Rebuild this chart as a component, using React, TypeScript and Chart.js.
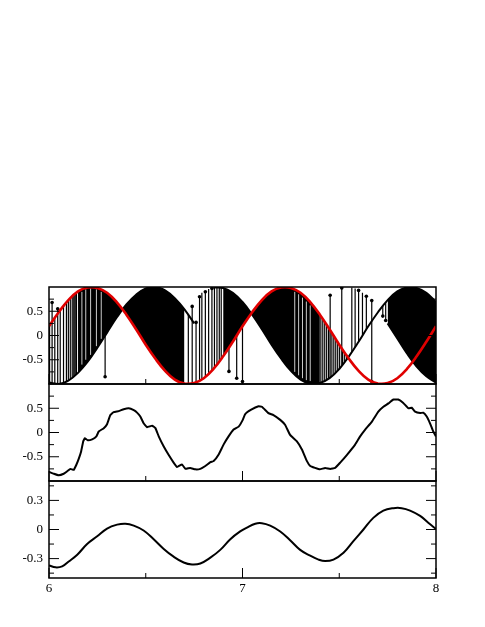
import React, { useEffect, useRef } from "react";
import { Chart, registerables } from "chart.js";
Chart.register(...registerables);

// ---------- top panel: sampled curves ----------
const X_GRID = [6.00, 6.05, 6.10, 6.15, 6.20, 6.25, 6.30, 6.35, 6.40, 6.45, 6.50, 6.55, 6.60, 6.65, 6.70, 6.75, 6.80, 6.85, 6.90, 6.95,
  7.00, 7.05, 7.10, 7.15, 7.20, 7.25, 7.30, 7.35, 7.40, 7.45, 7.50, 7.55, 7.60, 7.65, 7.70, 7.75, 7.80, 7.85, 7.90, 7.95, 8.00];
const RED_Y = [0.19, 0.48, 0.73, 0.91, 0.99, 0.98, 0.88, 0.69, 0.43, 0.13, -0.19, -0.48, -0.73, -0.91, -0.99, -0.98, -0.88, -0.69, -0.43, -0.13,
  0.19, 0.48, 0.73, 0.91, 0.99, 0.98, 0.88, 0.69, 0.43, 0.13, -0.19, -0.48, -0.73, -0.91, -0.99, -0.98, -0.88, -0.69, -0.43, -0.13, 0.19];
const BLACK_P = [-0.97, -1.00, -0.93, -0.77, -0.54, -0.25, 0.06, 0.37, 0.64, 0.84, 0.97, 1.00, 0.93, 0.77, 0.54, 0.25, -0.06, -0.37, -0.64, -0.84,
  -0.97, -1.00, -0.93, -0.77, -0.54, -0.25, 0.06, 0.37, 0.64, 0.84, 0.97, 1.00, 0.93, 0.77, 0.54, 0.25, -0.06, -0.37, -0.64, -0.84, -0.97];
const BLACK_R = [0.69, 0.43, 0.13, -0.19, -0.48, -0.73, -0.91, -0.99, -0.98, -0.88, -0.69, -0.43, -0.13, 0.19, 0.48, 0.73, 0.91, 0.99, 0.98, 0.88,
  0.69, 0.43, 0.13, -0.19, -0.48, -0.73, -0.91, -0.99, -0.98, -0.88, -0.69, -0.43, -0.13, 0.19, 0.48, 0.73, 0.91, 0.99, 0.98, 0.88, 0.69];

// dense (filled) switching bands: [from, to] and which pair of curves
const BAND_FROM = [6.15, 6.90, 7.75];
const BAND_TO = [6.70, 7.40, 8.00];
const BAND_UPPER = ["P", "R", "R"];
const BAND_LOWER = ["S", "S", "P"];

// visible black curve stretches
const EDGE_CURVE = ["P", "P", "R"];
const EDGE_FROM = [6.00, 7.75, 6.85];
const EDGE_TO = [6.75, 8.00, 8.00];

// isolated stems
const STEM_X = [6.003, 6.016, 6.030, 6.045, 6.058, 6.075, 6.090, 6.100, 6.110, 6.120, 6.128, 6.135, 6.142,
  6.290, 6.720, 6.740, 6.760, 6.778, 6.790, 6.808, 6.825, 6.842, 6.855, 6.868, 6.880, 6.890,
  6.930, 6.970, 7.000,
  7.405, 7.415, 7.425, 7.435, 7.445, 7.462, 7.472, 7.482, 7.492, 7.502, 7.518, 7.528, 7.538, 7.546,
  7.453, 7.513, 7.565, 7.582, 7.600, 7.620, 7.640, 7.668, 7.725, 7.740];
const STEM_LO = [-0.97, -0.99, -1.00, -1.00, -0.99, -0.98, -0.95, -0.93, -0.91, -0.88, -0.85, -0.83, -0.80,
  -0.85, -1.00, -0.99, -0.98, -0.93, -0.91, -0.85, -0.79, -0.72, -0.66, -0.60, -0.54, -0.48,
  -0.74, -0.88, -0.95,
  -0.98, -0.96, -0.94, -0.92, -0.89, -0.84, -0.80, -0.76, -0.72, -0.68, -0.60, -0.55, -0.50, -0.46,
  -0.87, -0.62, -0.34, -0.24, -0.13, 0.00, 0.13, -0.95, 0.40, 0.31];
const STEM_HI = [0.21, 0.68, 0.37, 0.55, 0.52, 0.61, 0.69, 0.73, 0.77, 0.81, 0.84, 0.86, 0.88,
  0.00, 0.43, 0.60, 0.27, 0.80, 0.88, 0.90, 0.96, 0.97, 1.00, 1.00, 1.00, 0.99,
  0.93, 0.81, 0.69,
  0.40, 0.34, 0.28, 0.22, 0.16, 0.06, 0.00, -0.08, -0.14, -0.19, -0.28, -0.34, -0.39, -0.43,
  0.83, 0.98, 0.99, 0.97, 0.93, 0.88, 0.81, 0.72, 0.61, 0.69];
const DOT_X = [6.016, 6.045, 6.290, 6.740, 6.760, 6.778, 6.808, 6.842, 6.930, 6.970, 7.000, 7.453, 7.513, 7.600, 7.640, 7.668, 7.668, 7.725, 7.740];
const DOT_Y = [0.68, 0.55, -0.85, 0.60, 0.27, 0.80, 0.90, 0.97, -0.74, -0.88, -0.95, 0.83, 0.98, 0.93, 0.81, 0.72, -0.95, 0.40, 0.31];

// thin white gaps inside the dense bands
const GAP_X = [6.170, 6.190, 6.215, 6.245, 6.270, 7.270, 7.290, 7.310, 7.330, 7.350];
const GAP_LO = [-0.60, -0.50, -0.40, -0.22, -0.07, -0.75, -0.82, -0.88, -0.92, -0.94];
const GAP_HI = [0.90, 0.95, 0.97, 0.95, 0.90, 0.90, 0.85, 0.78, 0.70, 0.62];

// ---------- middle panel ----------
const MID_X = [6.000, 6.025, 6.050, 6.076, 6.094, 6.111, 6.128, 6.142, 6.154, 6.166, 6.177, 6.185, 6.200, 6.223, 6.245, 6.257, 6.283, 6.300,
  6.317, 6.334, 6.360, 6.386, 6.412, 6.438, 6.455, 6.472, 6.489, 6.507, 6.533, 6.550, 6.567, 6.593, 6.618, 6.644, 6.662, 6.687, 6.705,
  6.730, 6.756, 6.782, 6.808, 6.834, 6.851, 6.876, 6.902, 6.928, 6.954, 6.980, 7.000, 7.014, 7.045, 7.083, 7.100, 7.134, 7.160, 7.195,
  7.220, 7.246, 7.280, 7.307, 7.333, 7.350, 7.375, 7.400, 7.427, 7.453, 7.479, 7.505, 7.540, 7.582, 7.608, 7.634, 7.668, 7.702, 7.728,
  7.754, 7.780, 7.805, 7.831, 7.857, 7.875, 7.892, 7.918, 7.934, 7.952, 7.969, 7.986, 8.000];
const MID_Y = [-0.81, -0.85, -0.88, -0.85, -0.80, -0.75, -0.77, -0.66, -0.54, -0.39, -0.18, -0.12, -0.16, -0.14, -0.08, 0.02, 0.09, 0.17,
  0.36, 0.42, 0.44, 0.48, 0.50, 0.46, 0.41, 0.33, 0.19, 0.11, 0.14, 0.09, -0.08, -0.29, -0.46, -0.62, -0.71, -0.66, -0.75,
  -0.73, -0.76, -0.75, -0.69, -0.61, -0.59, -0.46, -0.25, -0.08, 0.06, 0.12, 0.25, 0.38, 0.47, 0.54, 0.53, 0.40, 0.36, 0.26,
  0.16, -0.05, -0.18, -0.35, -0.59, -0.69, -0.73, -0.76, -0.73, -0.75, -0.73, -0.62, -0.46, -0.25, -0.08, 0.06, 0.22, 0.43, 0.53,
  0.60, 0.68, 0.68, 0.61, 0.50, 0.51, 0.43, 0.40, 0.41, 0.33, 0.19, 0.02, -0.08];

// ---------- bottom panel ----------
const BOT_X = [6.000, 6.034, 6.068, 6.102, 6.146, 6.197, 6.249, 6.300, 6.352, 6.395, 6.438, 6.489, 6.541, 6.593, 6.644, 6.696, 6.739,
  6.782, 6.834, 6.885, 6.937, 6.988, 7.023, 7.066, 7.100, 7.143, 7.195, 7.246, 7.298, 7.350, 7.393, 7.427, 7.470, 7.522, 7.573, 7.625,
  7.676, 7.728, 7.780, 7.823, 7.866, 7.918, 7.960, 8.000];
const BOT_Y = [-0.37, -0.39, -0.38, -0.33, -0.26, -0.15, -0.07, 0.01, 0.05, 0.06, 0.04, -0.01, -0.10, -0.20, -0.28, -0.34, -0.36,
  -0.35, -0.29, -0.21, -0.10, -0.02, 0.02, 0.06, 0.065, 0.04, -0.02, -0.11, -0.21, -0.27, -0.31, -0.325, -0.31, -0.24, -0.12, 0.00,
  0.12, 0.195, 0.22, 0.22, 0.195, 0.14, 0.07, 0.005];

// ---------- axes ----------
const X_TICK_LABELS = [6, 7, 8];
const X_MINOR = [6.5, 7.5];
const Y_MAJOR_1 = [-0.5, 0, 0.5];
const Y_MINOR_1 = [-0.75, -0.25, 0.25, 0.75];
const Y_MAJOR_3 = [-0.3, 0, 0.3];
const Y_MINOR_3 = [-0.45, -0.15, 0.15, 0.45];

const FONT = { family: "'Liberation Serif', 'Times New Roman', serif", size: 13 };

const CURVES: Record<string, number[]> = { S: RED_Y, P: BLACK_P, R: BLACK_R };

function pick(ys: number[], from: number, to: number) {
  const out: { x: number; y: number }[] = [];
  X_GRID.forEach((x, i) => {
    if (x >= from - 1e-9 && x <= to + 1e-9) out.push({ x, y: ys[i] });
  });
  return out;
}

function segments(xs: number[], lo: number[], hi: number[]) {
  const out: any[] = [];
  xs.forEach((x, i) => {
    out.push({ x, y: lo[i] }, { x, y: hi[i] }, { x, y: null });
  });
  return out;
}

const frameTicks = {
  id: "frameTicks",
  afterDraw(chart: any, _args: any, opts: any) {
    const { ctx, chartArea: a, scales } = chart;
    const ys = scales.y;
    const xs = scales.x;
    ctx.save();
    ctx.strokeStyle = "#000";
    ctx.lineWidth = 1;
    ctx.beginPath();
    const yt = (vals: number[], len: number) => {
      for (const v of vals) {
        const p = ys.getPixelForValue(v);
        ctx.moveTo(a.left, p);
        ctx.lineTo(a.left + len, p);
        ctx.moveTo(a.right, p);
        ctx.lineTo(a.right - len, p);
      }
    };
    const xt = (vals: number[], len: number) => {
      for (const v of vals) {
        const p = xs.getPixelForValue(v);
        ctx.moveTo(p, a.bottom);
        ctx.lineTo(p, a.bottom - len);
      }
    };
    yt(opts.yMajor, 10);
    yt(opts.yMinor, 5);
    xt(X_TICK_LABELS, 10);
    xt(X_MINOR, 5);
    ctx.stroke();
    ctx.lineWidth = 1.5;
    ctx.strokeRect(a.left, a.top, a.right - a.left, a.bottom - a.top);
    ctx.restore();
  },
};

const fmt = (v: any) => {
  const n = Number(v);
  if (Math.abs(n) < 1e-9) return "0";
  return String(Math.round(n * 100) / 100);
};

function makeOptions(yMin: number, yMax: number, yMajor: number[], yMinor: number[], showX: boolean) {
  return {
    animation: false,
    responsive: false,
    events: [],
    layout: { padding: { left: 0, right: 49, top: 20, bottom: showX ? 10 : 20 } },
    plugins: {
      legend: { display: false },
      tooltip: { enabled: false },
      frameTicks: { yMajor, yMinor },
    },
    scales: {
      x: {
        type: "linear",
        min: 6,
        max: 8,
        display: showX,
        afterBuildTicks: (s: any) => {
          s.ticks = X_TICK_LABELS.map((v) => ({ value: v }));
        },
        afterFit: (s: any) => {
          if (showX) s.height = 30;
        },
        grid: { display: false, drawTicks: false },
        border: { display: false },
        ticks: { font: FONT, color: "#000", padding: 3, maxRotation: 0, callback: fmt },
      },
      y: {
        type: "linear",
        min: yMin,
        max: yMax,
        afterBuildTicks: (s: any) => {
          s.ticks = yMajor.map((v) => ({ value: v }));
        },
        afterFit: (s: any) => {
          s.width = 49;
        },
        grid: { display: false, drawTicks: false },
        border: { display: false },
        ticks: { font: FONT, color: "#000", padding: 6, callback: fmt },
      },
    },
  };
}

function topDatasets() {
  const ds: any[] = [];
  ds.push({
    data: X_GRID.map((x, i) => ({ x, y: RED_Y[i] })),
    borderColor: "#e00000",
    borderWidth: 2.6,
    pointRadius: 0,
    tension: 0.4,
    fill: false,
  });
  ds.push({
    data: segments(STEM_X, STEM_LO, STEM_HI),
    borderColor: "#000",
    borderWidth: 1.2,
    pointRadius: 0,
    tension: 0,
    spanGaps: false,
    fill: false,
  });
  ds.push({
    data: DOT_X.map((x, i) => ({ x, y: DOT_Y[i] })),
    showLine: false,
    pointRadius: 1.8,
    pointBackgroundColor: "#000",
    pointBorderWidth: 0,
    fill: false,
  });
  EDGE_CURVE.forEach((c, i) => {
    ds.push({
      data: pick(CURVES[c], EDGE_FROM[i], EDGE_TO[i]),
      borderColor: "#000",
      borderWidth: 2,
      pointRadius: 0,
      tension: 0.4,
      fill: false,
    });
  });
  ds.push({
    data: segments(GAP_X, GAP_LO, GAP_HI),
    borderColor: "#fff",
    borderWidth: 0.8,
    pointRadius: 0,
    tension: 0,
    spanGaps: false,
    fill: false,
  });
  BAND_FROM.forEach((from, i) => {
    const idx = ds.length;
    ds.push({
      data: pick(CURVES[BAND_UPPER[i]], from, BAND_TO[i]),
      borderColor: "rgba(0,0,0,0)",
      borderWidth: 0,
      pointRadius: 0,
      tension: 0.4,
      backgroundColor: "#000",
      fill: { target: idx + 1, above: "#000", below: "#000" },
    });
    ds.push({
      data: pick(CURVES[BAND_LOWER[i]], from, BAND_TO[i]),
      borderColor: "rgba(0,0,0,0)",
      borderWidth: 0,
      pointRadius: 0,
      tension: 0.4,
      fill: false,
    });
  });
  return ds;
}

export default function App() {
  const c1 = useRef<HTMLCanvasElement>(null);
  const c2 = useRef<HTMLCanvasElement>(null);
  const c3 = useRef<HTMLCanvasElement>(null);

  useEffect(() => {
    const charts: Chart[] = [];
    charts.push(
      new Chart(c1.current as HTMLCanvasElement, {
        type: "line",
        data: { datasets: topDatasets() },
        options: makeOptions(-1, 1, Y_MAJOR_1, Y_MINOR_1, false) as any,
        plugins: [frameTicks as any],
      })
    );
    charts.push(
      new Chart(c2.current as HTMLCanvasElement, {
        type: "line",
        data: {
          datasets: [
            {
              data: MID_X.map((x, i) => ({ x, y: MID_Y[i] })),
              borderColor: "#000",
              borderWidth: 2,
              pointRadius: 0,
              tension: 0.1,
              fill: false,
            },
          ],
        },
        options: makeOptions(-1, 1, Y_MAJOR_1, Y_MINOR_1, false) as any,
        plugins: [frameTicks as any],
      })
    );
    charts.push(
      new Chart(c3.current as HTMLCanvasElement, {
        type: "line",
        data: {
          datasets: [
            {
              data: BOT_X.map((x, i) => ({ x, y: BOT_Y[i] })),
              borderColor: "#000",
              borderWidth: 2,
              pointRadius: 0,
              tension: 0.4,
              fill: false,
            },
          ],
        },
        options: makeOptions(-0.5, 0.5, Y_MAJOR_3, Y_MINOR_3, true) as any,
        plugins: [frameTicks as any],
      })
    );
    return () => charts.forEach((c) => c.destroy());
  }, []);

  const cs = (top: number, h: number): React.CSSProperties => ({ position: "absolute", left: 0, top, width: 485, height: h });
  return (
    <div style={{ position: "absolute", left: 0, top: 0, width: 485, height: 627, background: "#fff" }}>
      <canvas ref={c1} width={485} height={137} style={cs(267, 137)} />
      <canvas ref={c2} width={485} height={137} style={cs(364, 137)} />
      <canvas ref={c3} width={485} height={157} style={cs(461, 157)} />
    </div>
  );
}
